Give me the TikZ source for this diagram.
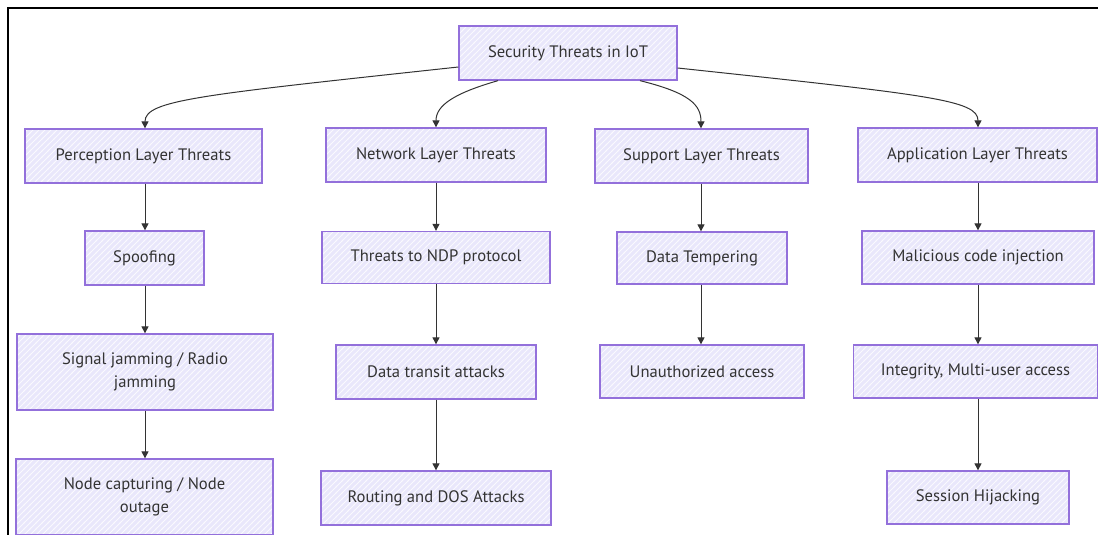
\documentclass[tikz,border=0pt]{standalone}
\usepackage{fontspec}
\setmainfont{PT Sans}
\usetikzlibrary{arrows.meta,patterns.meta}

\definecolor{boxfill}{HTML}{E9E7FB}
\definecolor{boxline}{HTML}{9370DB}
\definecolor{ink}{HTML}{333333}

% diagonal sketch-style hatching for the boxes
\tikzdeclarepattern{
  name=hatch,
  type=uncolored,
  bottom left={(-1pt,-1pt)},
  top right={(7pt,7pt)},
  tile size={(6pt,6pt)},
  code={\draw[line width=0.9pt] (-1pt,-1pt) -- (7pt,7pt);}
}

\tikzset{
  threat/.style={
    preaction={fill=boxfill},
    preaction={pattern=hatch, pattern color=white!75!boxfill},
    draw=boxline, line width=1.3pt,
    text=ink, align=center, inner sep=0pt,
    font=\fontsize{16.6}{23}\selectfont
  },
  link/.style={draw=ink, line width=1pt,
    -{Triangle[length=7pt,width=7pt,fill=ink]}}
}

\begin{document}
\begin{tikzpicture}[x=1pt,y=-1pt]
\useasboundingbox (0,0) rectangle (1098,535);

% frame
\draw[line width=2pt,black] (8,536) -- (8,8) -- (1099,8);

% root
\node[threat, minimum width=218pt, minimum height=54pt] (root) at (568,53) {Security Threats in IoT};

% layers
\node[threat, minimum width=237pt, minimum height=54pt] (perc) at (143.5,156) {Perception Layer Threats};
\node[threat, minimum width=220pt, minimum height=54pt] (net)  at (436,155)   {Network Layer Threats};
\node[threat, minimum width=213pt, minimum height=54pt] (sup)  at (701.5,156) {Support Layer Threats};
\node[threat, minimum width=239pt, minimum height=54pt] (app)  at (977.5,155) {Application Layer Threats};

% second row
\node[threat, minimum width=119pt, minimum height=54pt] (spoof) at (144.5,258) {Spoofing};
\node[threat, minimum width=228pt, minimum height=52pt] (ndp)   at (436,257.5) {Threats to NDP protocol};
\node[threat, minimum width=170pt, minimum height=52pt] (temp)  at (702,258)   {Data Tempering};
\node[threat, minimum width=232pt, minimum height=53pt] (inj)   at (978,257.5) {Malicious code injection};

% third row
\node[threat, minimum width=256pt, minimum height=76pt] (jam)   at (145,372)   {Signal jamming / Radio\\jamming};
\node[threat, minimum width=200pt, minimum height=54pt] (trans) at (436,372)   {Data transit attacks};
\node[threat, minimum width=204pt, minimum height=53pt] (unauth) at (702,371.5) {Unauthorized access};
\node[threat, minimum width=244pt, minimum height=53pt] (integ) at (975.5,371.5) {Integrity, Multi-user access};

% fourth row
\node[threat, minimum width=257pt, minimum height=76pt] (capt)  at (144.5,497) {Node capturing / Node\\outage};
\node[threat, minimum width=230pt, minimum height=54pt] (route) at (436,498)   {Routing and DOS Attacks};
\node[threat, minimum width=182pt, minimum height=53pt] (sess)  at (978,497.5) {Session Hijacking};

% root to layers
\draw[link] (root.west |- 0,67) .. controls (200,95) and (145,100) .. (perc.north -| 145,0);
\draw[link] (root.south -| 498,0) .. controls (455,93) and (436,105) .. (net.north);
\draw[link] (root.south -| 640,0) .. controls (690,93) and (701,105) .. (sup.north -| 701,0);
\draw[link] (root.east |- 0,68) .. controls (930,95) and (978,100) .. (app.north -| 978,0);

% perception chain
\draw[link] (perc.south -| 145,0) -- (spoof.north -| 145,0);
\draw[link] (spoof.south -| 145,0) -- (jam.north -| 145,0);
\draw[link] (jam.south -| 145,0) -- (capt.north -| 145,0);

% network chain
\draw[link] (net.south) -- (ndp.north);
\draw[link] (ndp.south) -- (trans.north);
\draw[link] (trans.south) -- (route.north);

% support chain
\draw[link] (sup.south -| 701,0) -- (temp.north -| 701,0);
\draw[link] (temp.south -| 701,0) -- (unauth.north -| 701,0);

% application chain
\draw[link] (app.south -| 978,0) -- (inj.north -| 978,0);
\draw[link] (inj.south -| 978,0) -- (integ.north -| 978,0);
\draw[link] (integ.south -| 978,0) -- (sess.north -| 978,0);
\end{tikzpicture}
\end{document}
